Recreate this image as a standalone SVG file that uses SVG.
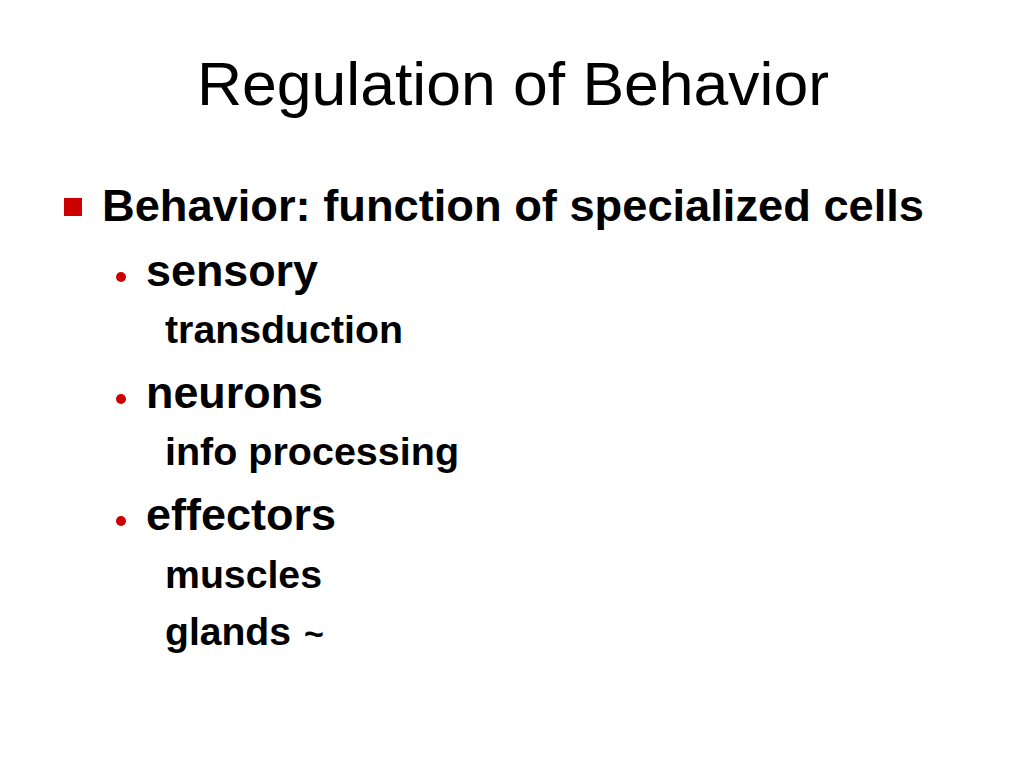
<svg xmlns="http://www.w3.org/2000/svg" width="1024" height="768" viewBox="0 0 1024 768">
<style>
.t{font-family:"Liberation Sans",Arial,sans-serif;fill:#000}
.title{font-size:61px}
.l1{font-size:44px;font-weight:bold}
.l2{font-size:44px;font-weight:bold}
.l3{font-size:38px;font-weight:bold}
.tl{font-size:34px;font-weight:bold}
.b{fill:#cc0000}
</style>
<rect width="1024" height="768" fill="#fff"/>
<text id="title" class="t title" x="197" y="105" textLength="632" lengthAdjust="spacingAndGlyphs">Regulation of Behavior</text>
<g id="item1">
<rect class="b" x="64" y="198" width="18" height="18"/>
<text class="t l1" x="102" y="221" textLength="822" lengthAdjust="spacingAndGlyphs">Behavior: function of specialized cells</text>
</g>
<g id="sensory">
<circle class="b" cx="121" cy="277" r="5"/>
<text class="t l2" x="146" y="286" textLength="172" lengthAdjust="spacingAndGlyphs">sensory</text>
<text class="t l3" x="165" y="343" textLength="238" lengthAdjust="spacingAndGlyphs">transduction</text>
</g>
<g id="neurons">
<circle class="b" cx="121" cy="399" r="5"/>
<text class="t l2" x="146" y="408" textLength="177" lengthAdjust="spacingAndGlyphs">neurons</text>
<text class="t l3" x="165" y="465" textLength="294" lengthAdjust="spacingAndGlyphs">info processing</text>
</g>
<g id="effectors">
<circle class="b" cx="121" cy="521" r="5"/>
<text class="t l2" x="146" y="530" textLength="190" lengthAdjust="spacingAndGlyphs">effectors</text>
<text class="t l3" x="165" y="588" textLength="157" lengthAdjust="spacingAndGlyphs">muscles</text>
<text class="t l3" x="165" y="645"><tspan textLength="126" lengthAdjust="spacingAndGlyphs">glands</tspan><tspan class="tl" x="304" y="645">~</tspan></text>
</g>
</svg>
